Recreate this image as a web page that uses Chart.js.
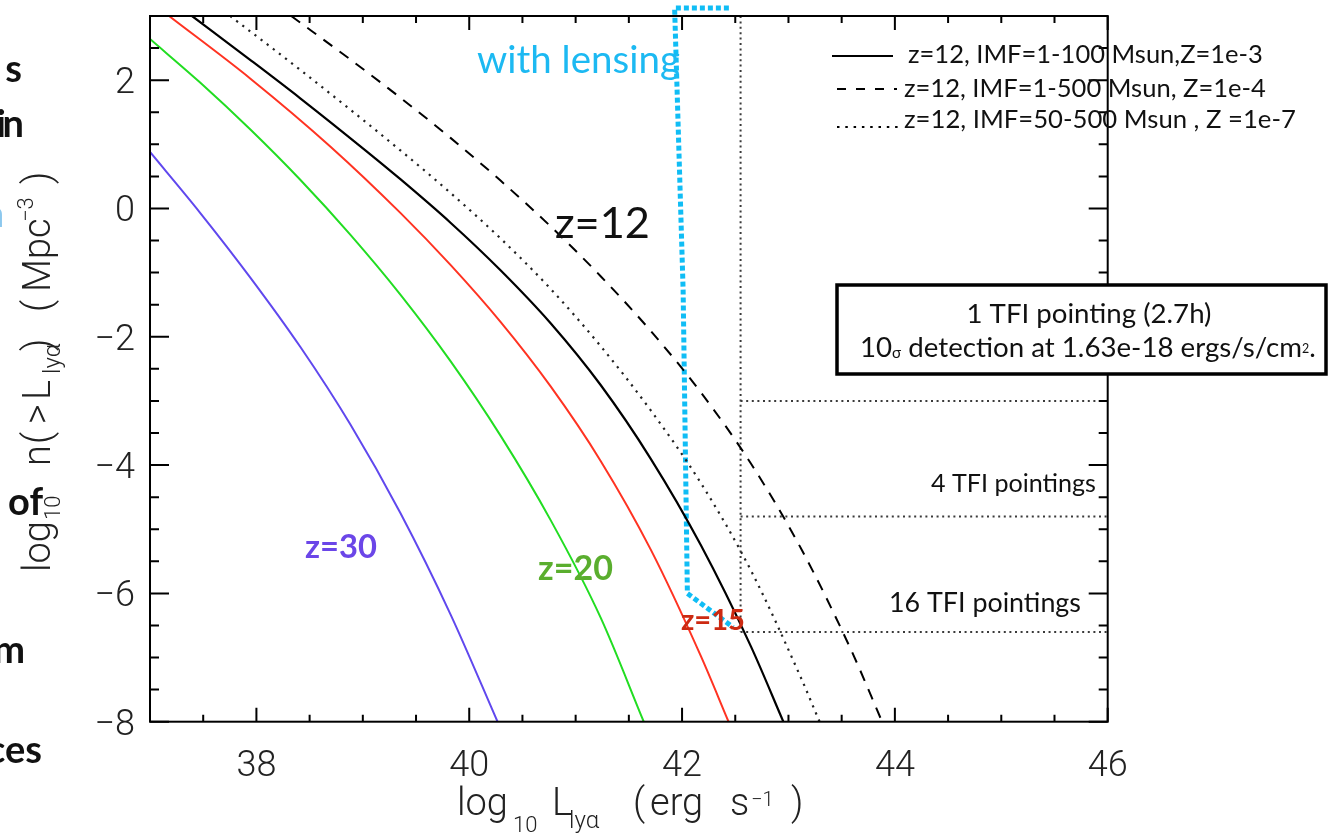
<!DOCTYPE html>
<html><head><meta charset="utf-8">
<script src="https://cdn.jsdelivr.net/npm/chart.js@4/dist/chart.umd.min.js"></script>
<style>html,body{margin:0;padding:0;background:#fff;}canvas{display:block;}</style>
</head><body>
<canvas id="c" width="1336" height="839"></canvas>
<script>
// ---------- data (log10 L_lya , log10 n(>L)) ----------
const z30L = [37.0, 37.471, 37.941, 38.412, 38.882, 39.353, 39.824, 40.266];
const z30N = [0.880, -0.067, -1.073, -2.156, -3.364, -4.747, -6.326, -8.0];

const z20L = [37.0, 37.471, 37.941, 38.412, 38.882, 39.353, 39.824, 40.294, 40.765, 41.235, 41.640];
const z20N = [2.641, 1.963, 1.234, 0.447, -0.408, -1.343, -2.380, -3.541, -4.858, -6.378, -8.0];

const z15L = [37.179, 37.941, 38.694, 39.353, 39.824, 40.294, 40.765, 41.235, 41.706, 42.176, 42.437];
const z15N = [3.0, 2.027, 0.967, -0.069, -0.880, -1.768, -2.774, -3.935, -5.318, -6.975, -8.0];

const z12aL = [37.395, 37.941, 38.412, 39.024, 39.353, 39.824, 40.294, 40.765, 41.235, 41.706, 42.176, 42.647, 42.952];
const z12aN = [3.0, 2.317, 1.717, 0.906, 0.456, -0.222, -0.963, -1.789, -2.752, -3.902, -5.246, -6.826, -8.0];

const z12bL = [38.327, 38.882, 39.353, 39.824, 40.294, 40.765, 41.235, 41.706, 42.176, 42.647, 43.118, 43.588, 43.880];
const z12bN = [3.0, 2.323, 1.726, 1.100, 0.434, -0.280, -1.056, -1.910, -2.866, -3.976, -5.301, -6.880, -8.0];

const z12cL = [37.753, 38.412, 39.353, 39.824, 40.294, 40.765, 41.235, 41.706, 42.176, 42.647, 43.118, 43.292];
const z12cN = [3.0, 2.160, 0.905, 0.242, -0.467, -1.254, -2.146, -3.148, -4.278, -5.642, -7.318, -8.0];

const lensL = [42.44, 41.93, 42.01, 42.05, 42.48];
const lensN = [3.125, 3.125, -1.27, -6.0, -6.53];

const limitL = 42.55;                   // 1 TFI pointing detection limit
const limitLevels = [-3.0, -4.8, -6.6]; // 1, 4, 16 pointings

const xTickLabels = [38, 40, 42, 44, 46];
const yTickLabels = [-8, -6, -4, -2, 0, 2];
const minorStep = 0.5;
const xRange = [37, 46];
const yRange = [-8, 3];

const legendLabels = [
  'z=12, IMF=1-100 Msun,Z=1e-3',
  'z=12, IMF=1-500 Msun, Z=1e-4',
  'z=12, IMF=50-500 Msun , Z =1e-7'
];

// ---------- helpers ----------
function pts(xs, ys) { return xs.map((x, i) => ({ x: x, y: ys[i] })); }
function line(label, data, color, width, dash, extra) {
  return Object.assign({
    label: label, data: data, showLine: true, borderColor: color, backgroundColor: color,
    borderWidth: width, borderDash: dash, pointRadius: 0, pointHoverRadius: 0, fill: false,
    cubicInterpolationMode: 'monotone', borderCapStyle: 'butt'
  }, extra || {});
}
const GRAY = '#3a3a3a';
const straight = { cubicInterpolationMode: 'default', tension: 0 };
const datasets = [
  line('z=30', pts(z30L, z30N), '#6048ee', 2, []),
  line('z=20', pts(z20L, z20N), '#22dd22', 2, []),
  line('z=15', pts(z15L, z15N), '#ff3322', 2, []),
  line(legendLabels[0], pts(z12aL, z12aN), '#000', 2.2, []),
  line(legendLabels[1], pts(z12bL, z12bN), '#000', 2, [11, 9]),
  line(legendLabels[2], pts(z12cL, z12cN), '#222', 2.2, [2.2, 5.5]),
  line('limit', [{ x: limitL, y: yRange[1] }, { x: limitL, y: limitLevels[2] }], GRAY, 2, [2, 3.4], straight)
];
limitLevels.forEach((lv, i) => datasets.push(
  line('level' + i, [{ x: limitL, y: lv }, { x: xRange[1], y: lv }], GRAY, 2, [2, 3.6], straight)));
datasets.push(line('with lensing', pts(lensL, lensN), '#10bdf5', 5, [5, 3], Object.assign({ clip: false }, straight)));

function fitSize(ctx, text, target, weight, family) {
  ctx.font = weight + ' 100px ' + family;
  return 100 * target / ctx.measureText(text).width;
}
function drawRich(ctx, pieces, x, y, main, weight, family, align, target) {
  function widths(sz) {
    return pieces.map(p => { ctx.font = weight + ' ' + (sz * p.s) + 'px ' + family; return ctx.measureText(p.t).width; });
  }
  let ws = widths(main);
  let tot = ws.reduce((a, b) => a + b, 0);
  if (target) { main = main * target / tot; ws = widths(main); tot = target; }
  let cx = align === 'center' ? x - tot / 2 : (align === 'right' ? x - tot : x);
  ctx.textAlign = 'left'; ctx.textBaseline = 'alphabetic';
  pieces.forEach((p, i) => {
    ctx.font = weight + ' ' + (main * p.s) + 'px ' + family;
    ctx.fillText(p.t, cx, y + (p.dy || 0) * main);
    cx += ws[i];
  });
}
function drawPlaced(ctx, pieces, family, weight) {
  ctx.textAlign = 'left'; ctx.textBaseline = 'alphabetic';
  pieces.forEach(p => { ctx.font = weight + ' ' + p.size + 'px ' + family; ctx.fillText(p.t, p.o, p.dy || 0); });
}

const TXT = 'Lato, "Open Sans", sans-serif';
const THIN = 'Roboto, Lato, sans-serif';

const decor = {
  id: 'decor',
  afterDatasetsDraw(chart) {
    const { ctx, chartArea: a, scales: { x, y } } = chart;
    ctx.save();
    ctx.strokeStyle = '#000'; ctx.lineWidth = 2; ctx.setLineDash([]);
    ctx.strokeRect(a.left, a.top, a.right - a.left, a.bottom - a.top);
    ctx.beginPath();
    for (let v = x.min; v <= x.max + 1e-9; v += minorStep) {
      const px = x.getPixelForValue(v);
      const L = xTickLabels.includes(v) ? 14 : 7;
      ctx.moveTo(px, a.bottom); ctx.lineTo(px, a.bottom - L);
      ctx.moveTo(px, a.top); ctx.lineTo(px, a.top + L);
    }
    for (let v = y.min; v <= y.max + 1e-9; v += minorStep) {
      const py = y.getPixelForValue(v);
      const L = yTickLabels.includes(v) ? 19 : 9;
      ctx.moveTo(a.left, py); ctx.lineTo(a.left + L, py);
      ctx.moveTo(a.right, py); ctx.lineTo(a.right - L, py);
    }
    ctx.stroke();
    ctx.restore();
  },
  afterDraw(chart) {
    const { ctx } = chart;
    const dsets = chart.data.datasets;
    ctx.save();

    // --- fragments of slide text cut at the left edge ---
    ctx.fillStyle = '#111'; ctx.textAlign = 'right'; ctx.textBaseline = 'alphabetic';
    ctx.font = '700 38px ' + TXT;
    [['s', 22, 82], ['i', 6, 137], ['n', 24, 137], ['of', 43, 515], ['m', 25, 663], ['ces', 42, 763]].forEach(f => ctx.fillText(f[0], f[1], f[2]));
    ctx.fillStyle = '#8cc8ee'; ctx.fillText('a', 4, 227);

    // --- axis titles ---
    ctx.fillStyle = '#222';
    ctx.save(); ctx.translate(457, 815);
    drawPlaced(ctx, [
      { t: 'log', o: 0, size: 38 }, { t: '10', o: 56, size: 22, dy: 17 },
      { t: 'L', o: 95, size: 38 }, { t: 'lyα', o: 112, size: 24, dy: 13 },
      { t: '(', o: 176, size: 38 }, { t: 'erg', o: 193, size: 38 }, { t: 's', o: 273, size: 38 },
      { t: '\u22121', o: 294, size: 20, dy: -9 }, { t: ')', o: 334, size: 38 }
    ], THIN, '300');
    ctx.restore();
    ctx.save(); ctx.translate(50, 572); ctx.rotate(-Math.PI / 2);
    drawPlaced(ctx, [
      { t: 'log', o: 0, size: 38 }, { t: '10', o: 52, size: 22, dy: 10 },
      { t: 'n', o: 106, size: 38 }, { t: '(', o: 128, size: 38 }, { t: '>', o: 148, size: 38 },
      { t: 'L', o: 172, size: 38 }, { t: 'lyα', o: 198, size: 24, dy: 10 }, { t: ')', o: 221, size: 38 },
      { t: '(', o: 260, size: 38 }, { t: 'Mpc', o: 280, size: 38 }, { t: '\u22123', o: 350, size: 22, dy: -17 },
      { t: ')', o: 388, size: 38 }
    ], THIN, '300');
    ctx.restore();

    // --- in-plot labels ---
    function lab(text, x, y, target, color, weight) {
      const s = fitSize(ctx, text, target, weight, TXT);
      ctx.font = weight + ' ' + s + 'px ' + TXT; ctx.fillStyle = color;
      ctx.textAlign = 'left'; ctx.textBaseline = 'alphabetic'; ctx.fillText(text, x, y);
    }
    lab('with lensing', 477, 73, 203, '#1cb9f2', '400');
    lab('z=12', 555, 238, 95, '#111', '400');
    lab('z=30', 305, 558, 72, '#6b46e8', '700');
    lab('z=20', 538, 580, 75, '#5aae2e', '700');
    lab('z=15', 681, 630, 64, '#cc2a12', '700');
    lab('4 TFI pointings', 931, 492, 165, '#111', '400');
    lab('16 TFI pointings', 889, 612, 192, '#111', '400');

    // --- annotation box ---
    ctx.fillStyle = '#fff'; ctx.strokeStyle = '#000'; ctx.lineWidth = 3.5; ctx.setLineDash([]);
    ctx.fillRect(837, 285, 489, 89); ctx.strokeRect(837, 285, 489, 89);
    ctx.fillStyle = '#111';
    drawRich(ctx, [{ t: '1 TFI pointing (2.7h)', s: 1 }], 1089, 323, 24, '400', TXT, 'center', 245);
    drawRich(ctx, [
      { t: '10', s: 1 }, { t: 'σ', s: 0.55, dy: 0.02 }, { t: ' detection at 1.63e-18 ergs/s/cm', s: 1 },
      { t: '2', s: 0.45, dy: -0.15 }, { t: '.', s: 1 }
    ], 1088, 357, 24, '400', TXT, 'center', 456);

    // --- legend ---
    const rows = [
      { ds: dsets[3], y: 56, ty: 63, tx: 908, x0: 832, x1: 893, target: 355, dash: [] },
      { ds: dsets[4], y: 89, ty: 97, tx: 904, x0: 837, x1: 897, target: 362, dash: [9, 10] },
      { ds: dsets[5], y: 127, ty: 128, tx: 904, x0: 837, x1: 899, target: 392, dash: [2.5, 5.8] }
    ];
    rows.forEach(r => {
      ctx.strokeStyle = '#000'; ctx.lineWidth = 2; ctx.setLineDash(r.dash);
      ctx.beginPath(); ctx.moveTo(r.x0, r.y); ctx.lineTo(r.x1, r.y); ctx.stroke();
      ctx.setLineDash([]);
      lab(r.ds.label, r.tx, r.ty, r.target, '#111', '400');
    });
    ctx.restore();
  }
};

new Chart(document.getElementById('c'), {
  type: 'scatter',
  data: { datasets: datasets },
  options: {
    responsive: false, animation: false, events: [],
    layout: { padding: { left: 0, top: 16, right: 1336 - 1107.7, bottom: 0 } },
    plugins: { legend: { display: false }, tooltip: { enabled: false } },
    scales: {
      x: {
        type: 'linear', min: xRange[0], max: xRange[1],
        grid: { display: false, drawTicks: false }, border: { display: false },
        afterBuildTicks: s => { s.ticks = xTickLabels.map(v => ({ value: v })); },
        afterFit: s => { s.height = 839 - 721.7; s.paddingLeft = 0; s.paddingRight = 0; },
        ticks: { padding: 24, autoSkip: false, maxRotation: 0, color: '#222',
          font: { family: THIN, weight: '300', size: 36 }, callback: v => String(v) }
      },
      y: {
        type: 'linear', min: yRange[0], max: yRange[1],
        grid: { display: false, drawTicks: false }, border: { display: false },
        afterBuildTicks: s => { s.ticks = yTickLabels.map(v => ({ value: v })); },
        afterFit: s => { s.width = 150; s.paddingTop = 0; s.paddingBottom = 0; },
        ticks: { padding: 15, labelOffset: 4, autoSkip: false, color: '#222',
          font: { family: THIN, weight: '300', size: 36 },
          callback: v => (v < 0 ? '\u2212' + Math.abs(v) : String(v)) }
      }
    }
  },
  plugins: [decor]
});
</script>
</body></html>
